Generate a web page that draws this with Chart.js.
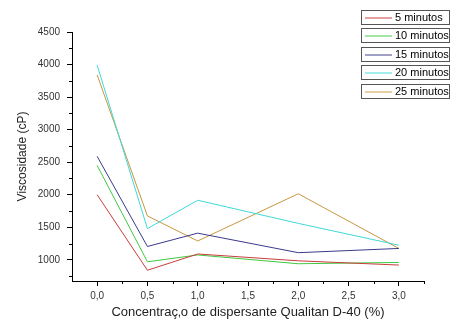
<!DOCTYPE html>
<html>
<head>
<meta charset="utf-8">
<script src="https://cdn.jsdelivr.net/npm/chart.js@4/dist/chart.umd.min.js"></script>
<style>
html,body{margin:0;padding:0;background:#fff;}
#wrap{width:457px;height:320px;position:relative;}
</style>
</head>
<body>
<div id="wrap"><canvas id="c" width="457" height="320"></canvas></div>
<script>
const concentrations = [0.0, 0.5, 1.0, 2.0, 3.0];
const seriesNames = ["5 minutos", "10 minutos", "15 minutos", "20 minutos", "25 minutos"];
const v5  = [2000, 840, 1090, 985, 920];
const v10 = [2450, 970, 1075, 940, 960];
const v15 = [2590, 1205, 1410, 1110, 1175];
const v20 = [3990, 1480, 1915, 1560, 1225];
const v25 = [3840, 1675, 1290, 2015, 1175];
const xTickValues = [0.0, 0.5, 1.0, 1.5, 2.0, 2.5, 3.0];
const yTickValues = [1000, 1500, 2000, 2500, 3000, 3500, 4000, 4500];
const xMinorTicks = [0.25, 0.75, 1.25, 1.75, 2.25, 2.75, 3.25];
const yMinorTicks = [750, 1250, 1750, 2250, 2750, 3250, 3750, 4250];

const colors = ["#c83c3c", "#40c840", "#3a3a8c", "#40d8d8", "#c89640"];
const allValues = [v5, v10, v15, v20, v25];
const FONT = "'Liberation Sans', Arial, sans-serif";

const datasets = allValues.map((vals, i) => ({
  label: seriesNames[i],
  data: vals.map((y, j) => ({x: concentrations[j], y: y})),
  borderColor: colors[i],
  backgroundColor: colors[i],
  borderWidth: 1,
  pointRadius: 0,
  tension: 0,
  fill: false
}));

const minorTicksPlugin = {
  id: 'minorTicks',
  afterDraw(chart) {
    const ctx = chart.ctx;
    const xs = chart.scales.x, ys = chart.scales.y;
    const ca = chart.chartArea;
    ctx.save();
    ctx.strokeStyle = '#000';
    ctx.lineWidth = 1;
    ctx.beginPath();
    xMinorTicks.forEach(v => {
      const px = Math.round(xs.getPixelForValue(v)) + 0.5;
      ctx.moveTo(px, ca.bottom);
      ctx.lineTo(px, ca.bottom + 3);
    });
    yMinorTicks.forEach(v => {
      const py = Math.round(ys.getPixelForValue(v)) + 0.5;
      ctx.moveTo(ca.left - 3, py);
      ctx.lineTo(ca.left, py);
    });
    ctx.stroke();
    ctx.restore();
  }
};

const boxLegendPlugin = {
  id: 'boxLegend',
  afterDraw(chart) {
    const ctx = chart.ctx;
    ctx.save();
    const bx = 361.5, bw = 88, bh = 14, pitch = 18.6, y0 = 9.5;
    chart.data.datasets.forEach((ds, i) => {
      const top = Math.round(y0 + i * pitch) + 0.5;
      ctx.strokeStyle = '#555';
      ctx.lineWidth = 1;
      ctx.strokeRect(bx, top, bw, bh);
      const cy = top + bh / 2 + 0.5;
      ctx.strokeStyle = ds.borderColor;
      ctx.lineWidth = 1.2;
      ctx.globalAlpha = 0.8;
      ctx.beginPath();
      ctx.moveTo(365, cy);
      ctx.lineTo(392, cy);
      ctx.stroke();
      ctx.globalAlpha = 1;
      ctx.fillStyle = '#000';
      ctx.font = "11px " + FONT;
      ctx.textBaseline = 'middle';
      ctx.textAlign = 'left';
      ctx.fillText(ds.label, 395, cy);
    });
    ctx.restore();
  }
};

new Chart(document.getElementById('c'), {
  type: 'line',
  data: { datasets: datasets },
  options: {
    responsive: false,
    animation: false,
    layout: { padding: { top: 32, right: 33, left: 0, bottom: 0 } },
    plugins: { legend: { display: false }, tooltip: { enabled: false } },
    scales: {
      x: {
        type: 'linear',
        min: -0.25,
        max: 3.25,
        afterBuildTicks: s => { s.ticks = xTickValues.map(v => ({value: v})); },
        afterFit: s => { s.height = 39; },
        border: { display: true, color: '#000', width: 1 },
        grid: { display: true, drawOnChartArea: false, drawTicks: true, tickLength: 5, color: '#000' },
        ticks: {
          color: '#333',
          font: { size: 10, family: FONT },
          padding: 4,
          maxRotation: 0,
          autoSkip: false,
          callback: v => Number(v).toFixed(1).replace('.', ',')
        },
        title: {
          display: true,
          text: 'Concentraç‚o de dispersante Qualitan D-40 (%)',
          color: '#222',
          font: { size: 13, family: FONT },
          padding: { top: 0, bottom: 0 }
        }
      },
      y: {
        type: 'linear',
        min: 675,
        max: 4500,
        afterBuildTicks: s => { s.ticks = yTickValues.map(v => ({value: v})); },
        afterFit: s => { s.width = 72; },
        border: { display: true, color: '#000', width: 1 },
        grid: { display: true, drawOnChartArea: false, drawTicks: true, tickLength: 5, color: '#000' },
        ticks: {
          color: '#333',
          font: { size: 10, family: FONT },
          padding: 7,
          autoSkip: false,
          callback: v => String(v)
        },
        title: {
          display: true,
          text: 'Viscosidade (cP)',
          color: '#222',
          font: { size: 12, family: FONT },
          padding: { top: 15, bottom: 0 }
        }
      }
    }
  },
  plugins: [minorTicksPlugin, boxLegendPlugin]
});
</script>
</body>
</html>
